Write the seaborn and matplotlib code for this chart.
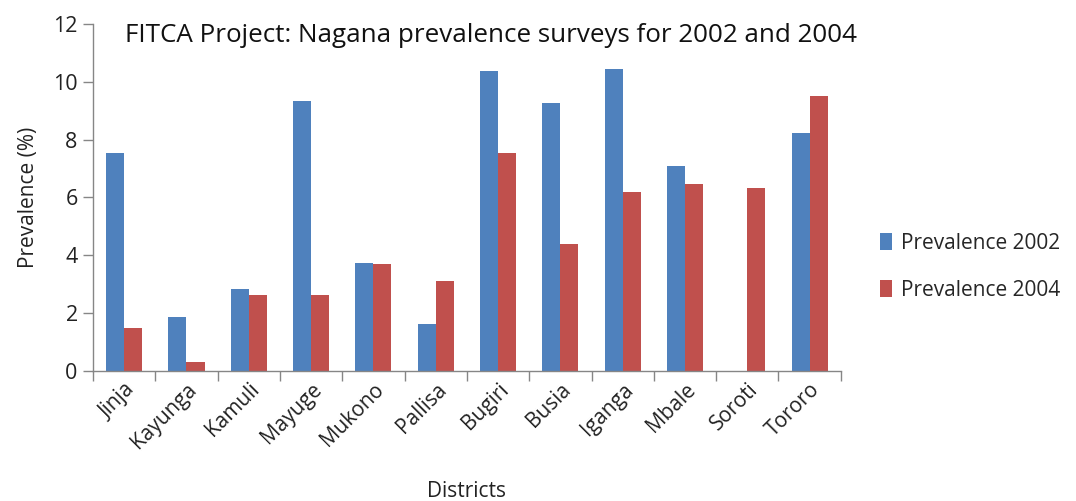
import matplotlib
matplotlib.use("Agg")
import matplotlib.pyplot as plt
import seaborn as sns
import pandas as pd

districts = ["Jinja", "Kayunga", "Kamuli", "Mayuge", "Mukono", "Pallisa",
             "Bugiri", "Busia", "Iganga", "Mbale", "Soroti", "Tororo"]
prev_2002 = [7.55, 1.87, 2.83, 9.35, 3.74, 1.63, 10.38, 9.27, 10.43, 7.10, 0.0, 8.24]
prev_2004 = [1.49, 0.29, 2.62, 2.62, 3.70, 3.10, 7.52, 4.39, 6.19, 6.48, 6.31, 9.52]
series_names = ["Prevalence 2002", "Prevalence 2004"]
colors = ["#4F81BD", "#C0504D"]

df = pd.DataFrame({
    "District": districts * 2,
    "Prevalence": prev_2002 + prev_2004,
    "Series": [series_names[0]] * len(districts) + [series_names[1]] * len(districts),
})

sns.set_theme(style="white")
plt.rcParams["font.family"] = ["Open Sans", "DejaVu Sans"]

fig = plt.figure(figsize=(10.76, 5.01), dpi=100)
ax = fig.add_axes([0.0864, 0.26, 0.695, 0.692])

sns.barplot(data=df, x="District", y="Prevalence", hue="Series",
            palette=colors, width=0.58, ax=ax, saturation=1,
            linewidth=0, errorbar=None)

ax.set_ylim(0, 12)
ax.set_xlim(-0.5, len(districts) - 0.5)
ax.set_yticks(range(0, 13, 2))
ax.tick_params(axis="y", labelsize=15.5, length=7, width=1, color="#868686",
               direction="out", left=True, pad=4, labelcolor="#222222")
ax.tick_params(axis="x", length=0, labelsize=15, pad=6, labelcolor="#222222")

# category boundary ticks below the axis
ax.set_xticks([i - 0.5 for i in range(len(districts) + 1)], minor=True)
ax.tick_params(axis="x", which="minor", length=7, width=1, color="#868686",
               direction="out", bottom=True)
ax.set_xticks(range(len(districts)))
ax.set_xticklabels(districts, rotation=45, ha="right", rotation_mode="anchor")

for side in ["top", "right"]:
    ax.spines[side].set_visible(False)
for side in ["left", "bottom"]:
    ax.spines[side].set_color("#868686")
    ax.spines[side].set_linewidth(1)

ax.set_ylabel("Prevalence (%)", fontsize=15, color="#222222", labelpad=10)
ax.set_xlabel("Districts", fontsize=15, color="#222222", labelpad=20)

fig.text(0.116, 0.93, "FITCA Project: Nagana prevalence surveys for 2002 and 2004",
         fontsize=18.7, color="#111111", ha="left", va="center")

ax.legend(loc="center left", bbox_to_anchor=(1.027, 0.30), frameon=False,
          fontsize=15, handlelength=0.6, handleheight=0.9, handletextpad=0.4,
          labelspacing=1.25, title=None)

fig.savefig("out.png", dpi=100)
